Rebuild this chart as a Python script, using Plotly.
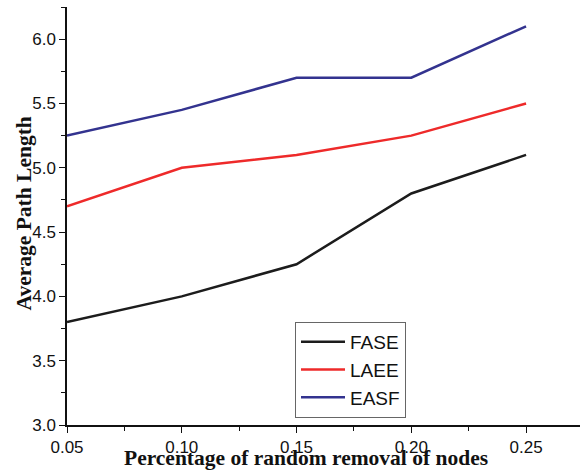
import plotly.graph_objects as go

x_vals = [0.05, 0.10, 0.15, 0.20, 0.25]
fase = [3.8, 4.0, 4.25, 4.8, 5.1]
laee = [4.7, 5.0, 5.1, 5.25, 5.5]
easf = [5.25, 5.45, 5.7, 5.7, 6.1]
series_names = ["FASE", "LAEE", "EASF"]
colors = ["#1c1c1c", "#ee2a2a", "#33338f"]

fig = go.Figure()
for name, ys, c in zip(series_names, [fase, laee, easf], colors):
    fig.add_trace(go.Scatter(x=x_vals, y=ys, mode="lines", name=name,
                             line=dict(color=c, width=2.5)))

W, H = 582, 472
L, R, T, B = 67, 2, 7, 47
pw, ph = W - L - R, H - T - B

def px(xp):
    return (xp - L) / pw

def py(yp):
    return (H - B - yp) / ph

fig.update_layout(
    width=W, height=H,
    margin=dict(l=L, r=R, t=T, b=B, autoexpand=False),
    paper_bgcolor="white", plot_bgcolor="white",
    font=dict(family="Arial, Liberation Sans", size=17, color="#111"),
    legend=dict(x=px(295), y=py(322), xanchor="left", yanchor="top",
                bordercolor="#666", borderwidth=1, bgcolor="white",
                font=dict(size=19), tracegroupgap=0, itemwidth=44),
    showlegend=True,
    xaxis=dict(range=[0.05, 0.2735], tickvals=x_vals, tickformat=".2f",
               showgrid=False, zeroline=False, showline=True, linecolor="#111",
               linewidth=1.5, ticks="outside", ticklen=6, tickcolor="#111",
               minor=dict(tickvals=[0.075, 0.125, 0.175, 0.225], ticks="outside",
                          ticklen=4, tickcolor="#111", showgrid=False),
               tickfont=dict(size=17)),
    yaxis=dict(range=[3.0, 6.25], tickvals=[3.0, 3.5, 4.0, 4.5, 5.0, 5.5, 6.0],
               tickformat=".1f", showgrid=False, zeroline=False, showline=True,
               linecolor="#111", linewidth=1.5, ticks="outside", ticklen=6,
               tickcolor="#111",
               minor=dict(tickvals=[3.25, 3.75, 4.25, 4.75, 5.25, 5.75, 6.25],
                          ticks="outside", ticklen=4, tickcolor="#111", showgrid=False),
               tickfont=dict(size=17)),
    annotations=[
        dict(text="<b>Percentage of random removal of nodes</b>", xref="paper", yref="paper",
             x=px(306), y=py(458), xanchor="center", yanchor="middle", showarrow=False,
             font=dict(family="Liberation Serif, Times New Roman", size=21.5, color="#111")),
        dict(text="<b>Average Path Length</b>", xref="paper", yref="paper",
             x=px(23), y=py(213.5), xanchor="center", yanchor="middle", showarrow=False,
             textangle=-90,
             font=dict(family="Liberation Serif, Times New Roman", size=21.5, color="#111")),
    ],
)

fig.write_html("out.html", config={"displayModeBar": False},
               post_script="document.body.style.margin='0';document.body.style.overflow='hidden';")
